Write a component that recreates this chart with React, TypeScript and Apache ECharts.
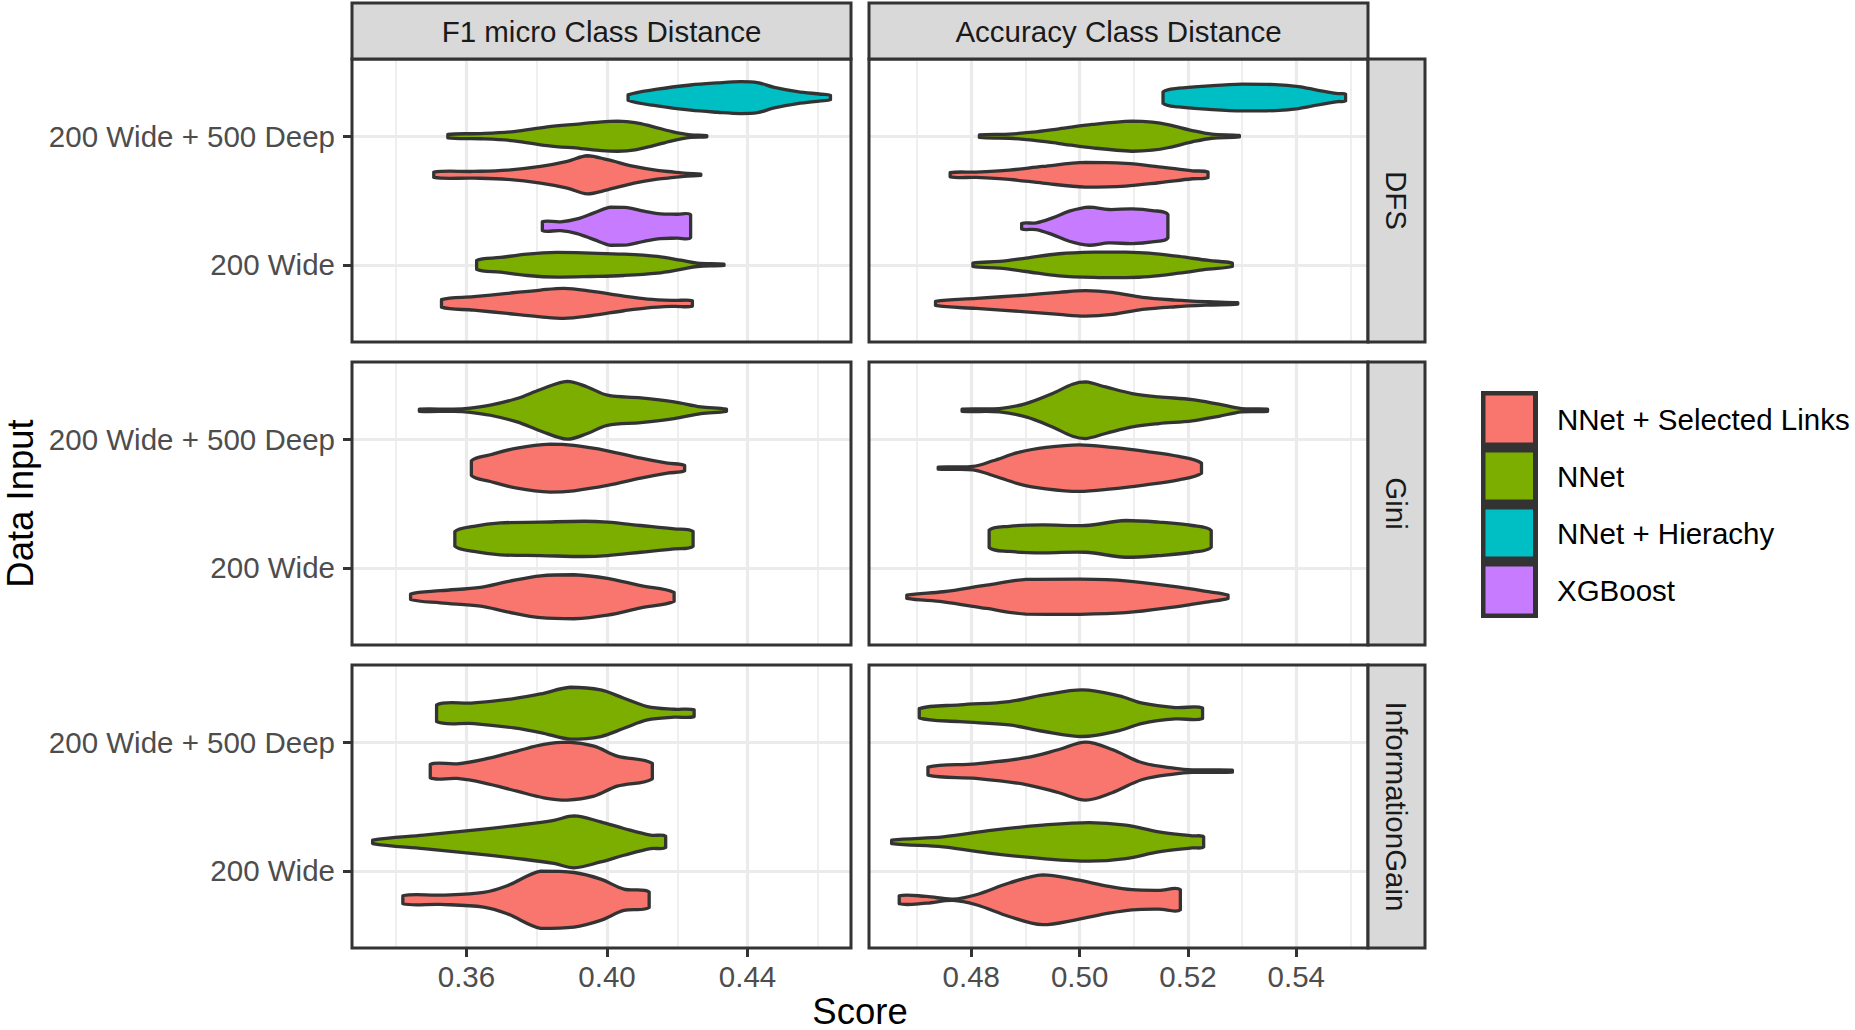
import React, { useEffect, useRef } from "react";
import * as echarts from "echarts";

// ---------- categories ----------
const metrics = ["F1 micro Class Distance", "Accuracy Class Distance"];
const selections = ["DFS", "Gini", "InformationGain"];
const inputs = ["200 Wide", "200 Wide + 500 Deep"];
const methods = ["NNet + Selected Links", "NNet", "NNet + Hierachy", "XGBoost"];
const methodColors = ["#F8766D", "#7CAE00", "#00BFC4", "#C77CFF"];

// ---------- axis ranges / ticks ----------
const f1Range = [0.32743, 0.46944];
const accRange = [0.46112, 0.55324];
const f1Ticks = [0.36, 0.4, 0.44];
const f1Minor = [0.34, 0.38, 0.42, 0.46];
const accTicks = [0.48, 0.5, 0.52, 0.54];
const accMinor = [0.47, 0.49, 0.51, 0.53, 0.55];
const inputRange = [0.4, 2.6];

// ---------- violin profiles: [score, half width in category units] ----------
// DFS - F1 micro
const dfsF1DeepHier = [[0.406, 0.021], [0.4143, 0.065], [0.4238, 0.098], [0.4314, 0.114], [0.4381, 0.124], [0.4428, 0.117], [0.4476, 0.08], [0.4542, 0.047], [0.4609, 0.026], [0.4636, 0.016]];
const dfsF1DeepNNet = [[0.3547, 0.013], [0.364, 0.02], [0.3735, 0.036], [0.383, 0.073], [0.3925, 0.096], [0.3985, 0.112], [0.403, 0.117], [0.408, 0.106], [0.413, 0.075], [0.4185, 0.036], [0.4238, 0.01], [0.4284, 0.005]];
const dfsF1DeepSL = [[0.3507, 0.021], [0.3621, 0.026], [0.3716, 0.036], [0.3811, 0.065], [0.3887, 0.104], [0.3944, 0.148], [0.4001, 0.117], [0.4077, 0.065], [0.4143, 0.034], [0.4191, 0.021], [0.4229, 0.01], [0.4267, 0.005]];
const dfsF1WideXGB = [[0.3816, 0.034], [0.3868, 0.034], [0.3915, 0.057], [0.3963, 0.104], [0.401, 0.148], [0.4058, 0.145], [0.4105, 0.117], [0.4153, 0.096], [0.42, 0.093], [0.4238, 0.088]];
const dfsF1WideNNet = [[0.3629, 0.034], [0.3697, 0.057], [0.3773, 0.083], [0.3858, 0.096], [0.3953, 0.091], [0.4048, 0.083], [0.4143, 0.065], [0.421, 0.036], [0.4257, 0.013], [0.4333, 0.005]];
const dfsF1WideSL = [[0.3529, 0.029], [0.3621, 0.052], [0.3716, 0.078], [0.3811, 0.104], [0.3877, 0.117], [0.3953, 0.096], [0.4048, 0.057], [0.4115, 0.034], [0.4191, 0.023], [0.4243, 0.021]];
// DFS - Accuracy
const dfsAccDeepHier = [[0.5154, 0.044], [0.5183, 0.073], [0.5238, 0.091], [0.53, 0.104], [0.5361, 0.101], [0.5404, 0.086], [0.544, 0.057], [0.5477, 0.031], [0.5491, 0.026]];
const dfsAccDeepNNet = [[0.4815, 0.01], [0.487, 0.016], [0.4913, 0.031], [0.4962, 0.057], [0.5024, 0.091], [0.5097, 0.117], [0.5134, 0.109], [0.5165, 0.088], [0.5208, 0.044], [0.5244, 0.016], [0.5295, 0.006]];
const dfsAccDeepSL = [[0.4761, 0.016], [0.4809, 0.021], [0.487, 0.036], [0.4932, 0.065], [0.5011, 0.096], [0.5085, 0.088], [0.5146, 0.062], [0.5208, 0.031], [0.5237, 0.021]];
const dfsAccWideXGB = [[0.4893, 0.021], [0.492, 0.026], [0.495, 0.065], [0.4981, 0.117], [0.5018, 0.148], [0.5054, 0.13], [0.5097, 0.135], [0.5134, 0.122], [0.5163, 0.091]];
const dfsAccWideNNet = [[0.4803, 0.013], [0.4852, 0.026], [0.4901, 0.052], [0.4962, 0.086], [0.5036, 0.099], [0.5085, 0.099], [0.5128, 0.091], [0.5183, 0.065], [0.5238, 0.034], [0.5282, 0.013]];
const dfsAccWideSL = [[0.4734, 0.016], [0.4809, 0.039], [0.4901, 0.065], [0.4962, 0.086], [0.5011, 0.099], [0.506, 0.086], [0.5116, 0.047], [0.5177, 0.026], [0.5238, 0.013], [0.5292, 0.005]];
// Gini - F1 micro
const giniF1DeepNNet = [[0.3466, 0.008], [0.3564, 0.008], [0.3611, 0.016], [0.3668, 0.039], [0.3744, 0.091], [0.3811, 0.161], [0.3887, 0.225], [0.3944, 0.181], [0.4001, 0.117], [0.4096, 0.096], [0.4191, 0.065], [0.4267, 0.026], [0.434, 0.008]];
const giniF1DeepSL = [[0.3614, 0.057], [0.3668, 0.104], [0.3744, 0.156], [0.3839, 0.187], [0.3906, 0.176], [0.4001, 0.135], [0.4096, 0.078], [0.4172, 0.039], [0.4221, 0.021]];
const giniF1WideNNet = [[0.3567, 0.057], [0.3621, 0.098], [0.3697, 0.124], [0.3811, 0.13], [0.3934, 0.137], [0.4001, 0.13], [0.4096, 0.104], [0.4191, 0.078], [0.4245, 0.057]];
const giniF1WideSL = [[0.3441, 0.021], [0.3526, 0.047], [0.364, 0.073], [0.3716, 0.117], [0.3811, 0.163], [0.3906, 0.171], [0.4001, 0.143], [0.4096, 0.086], [0.4191, 0.034]];
// Gini - Accuracy
const giniAccDeepNNet = [[0.4783, 0.008], [0.4852, 0.013], [0.4901, 0.052], [0.495, 0.13], [0.4987, 0.202], [0.5011, 0.22], [0.5048, 0.181], [0.5097, 0.13], [0.5146, 0.104], [0.5208, 0.083], [0.5257, 0.047], [0.5299, 0.013], [0.5347, 0.008]];
const giniAccDeepSL = [[0.4739, 0.008], [0.4803, 0.013], [0.484, 0.057], [0.4889, 0.124], [0.4938, 0.161], [0.4999, 0.181], [0.506, 0.161], [0.5122, 0.13], [0.5183, 0.091], [0.5225, 0.039]];
const giniAccWideNNet = [[0.4833, 0.067], [0.487, 0.098], [0.4932, 0.109], [0.5011, 0.104], [0.5085, 0.143], [0.5146, 0.13], [0.5208, 0.104], [0.5243, 0.065]];
const giniAccWideSL = [[0.4681, 0.013], [0.4748, 0.039], [0.4828, 0.091], [0.4901, 0.135], [0.4993, 0.137], [0.5085, 0.124], [0.5177, 0.078], [0.5238, 0.039], [0.5274, 0.013]];
// InformationGain - F1 micro
const igF1DeepNNet = [[0.3515, 0.065], [0.3621, 0.08], [0.3735, 0.114], [0.3811, 0.15], [0.3896, 0.202], [0.3982, 0.181], [0.4048, 0.117], [0.4115, 0.052], [0.4191, 0.031], [0.4248, 0.026]];
const igF1DeepSL = [[0.3497, 0.052], [0.3574, 0.057], [0.3649, 0.091], [0.3744, 0.156], [0.382, 0.207], [0.3887, 0.225], [0.3963, 0.194], [0.4029, 0.117], [0.4129, 0.06]];
const igF1WideNNet = [[0.3333, 0.013], [0.3478, 0.052], [0.3621, 0.091], [0.3763, 0.135], [0.3849, 0.168], [0.3906, 0.202], [0.3982, 0.156], [0.4048, 0.104], [0.4124, 0.052], [0.4167, 0.044]];
const igF1WideSL = [[0.3419, 0.031], [0.3526, 0.036], [0.3649, 0.057], [0.3716, 0.109], [0.3811, 0.222], [0.3906, 0.212], [0.3982, 0.16], [0.4048, 0.083], [0.412, 0.06]];
// InformationGain - Accuracy
const igAccDeepNNet = [[0.4704, 0.036], [0.4779, 0.065], [0.487, 0.091], [0.4932, 0.14], [0.5005, 0.181], [0.5073, 0.135], [0.5116, 0.078], [0.5177, 0.044], [0.5227, 0.041]];
const igAccDeepSL = [[0.472, 0.031], [0.4809, 0.057], [0.4901, 0.104], [0.4962, 0.168], [0.5011, 0.225], [0.506, 0.168], [0.5116, 0.065], [0.5177, 0.021], [0.5208, 0.01], [0.5282, 0.008]];
const igAccWideNNet = [[0.4653, 0.013], [0.4748, 0.039], [0.484, 0.091], [0.4932, 0.13], [0.5018, 0.15], [0.5085, 0.13], [0.5146, 0.078], [0.5208, 0.047], [0.5229, 0.039]];
const igAccWideSL = [[0.4667, 0.031], [0.4717, 0.026], [0.4766, 0.005], [0.4809, 0.039], [0.487, 0.13], [0.4932, 0.194], [0.4993, 0.156], [0.5054, 0.104], [0.5097, 0.078], [0.5146, 0.073], [0.5186, 0.078]];

type Violin = { sel: string; metric: string; input: string; method: string; profile: number[][] };

const violins: Violin[] = [
  { sel: "DFS", metric: metrics[0], input: inputs[1], method: methods[2], profile: dfsF1DeepHier },
  { sel: "DFS", metric: metrics[0], input: inputs[1], method: methods[1], profile: dfsF1DeepNNet },
  { sel: "DFS", metric: metrics[0], input: inputs[1], method: methods[0], profile: dfsF1DeepSL },
  { sel: "DFS", metric: metrics[0], input: inputs[0], method: methods[3], profile: dfsF1WideXGB },
  { sel: "DFS", metric: metrics[0], input: inputs[0], method: methods[1], profile: dfsF1WideNNet },
  { sel: "DFS", metric: metrics[0], input: inputs[0], method: methods[0], profile: dfsF1WideSL },
  { sel: "DFS", metric: metrics[1], input: inputs[1], method: methods[2], profile: dfsAccDeepHier },
  { sel: "DFS", metric: metrics[1], input: inputs[1], method: methods[1], profile: dfsAccDeepNNet },
  { sel: "DFS", metric: metrics[1], input: inputs[1], method: methods[0], profile: dfsAccDeepSL },
  { sel: "DFS", metric: metrics[1], input: inputs[0], method: methods[3], profile: dfsAccWideXGB },
  { sel: "DFS", metric: metrics[1], input: inputs[0], method: methods[1], profile: dfsAccWideNNet },
  { sel: "DFS", metric: metrics[1], input: inputs[0], method: methods[0], profile: dfsAccWideSL },
  { sel: "Gini", metric: metrics[0], input: inputs[1], method: methods[1], profile: giniF1DeepNNet },
  { sel: "Gini", metric: metrics[0], input: inputs[1], method: methods[0], profile: giniF1DeepSL },
  { sel: "Gini", metric: metrics[0], input: inputs[0], method: methods[1], profile: giniF1WideNNet },
  { sel: "Gini", metric: metrics[0], input: inputs[0], method: methods[0], profile: giniF1WideSL },
  { sel: "Gini", metric: metrics[1], input: inputs[1], method: methods[1], profile: giniAccDeepNNet },
  { sel: "Gini", metric: metrics[1], input: inputs[1], method: methods[0], profile: giniAccDeepSL },
  { sel: "Gini", metric: metrics[1], input: inputs[0], method: methods[1], profile: giniAccWideNNet },
  { sel: "Gini", metric: metrics[1], input: inputs[0], method: methods[0], profile: giniAccWideSL },
  { sel: "InformationGain", metric: metrics[0], input: inputs[1], method: methods[1], profile: igF1DeepNNet },
  { sel: "InformationGain", metric: metrics[0], input: inputs[1], method: methods[0], profile: igF1DeepSL },
  { sel: "InformationGain", metric: metrics[0], input: inputs[0], method: methods[1], profile: igF1WideNNet },
  { sel: "InformationGain", metric: metrics[0], input: inputs[0], method: methods[0], profile: igF1WideSL },
  { sel: "InformationGain", metric: metrics[1], input: inputs[1], method: methods[1], profile: igAccDeepNNet },
  { sel: "InformationGain", metric: metrics[1], input: inputs[1], method: methods[0], profile: igAccDeepSL },
  { sel: "InformationGain", metric: metrics[1], input: inputs[0], method: methods[1], profile: igAccWideNNet },
  { sel: "InformationGain", metric: metrics[1], input: inputs[0], method: methods[0], profile: igAccWideSL },
];

// position_dodge(width = 0.9) on the discrete input axis
function dodgeCenter(v: Violin): number {
  const present = violins
    .filter((w) => w.sel === v.sel && w.metric === v.metric && w.input === v.input)
    .map((w) => methods.indexOf(w.method))
    .sort((a, b) => a - b);
  const n = present.length;
  const i = present.indexOf(methods.indexOf(v.method));
  const w = 0.9 / n;
  return inputs.indexOf(v.input) + 1 + (i - (n - 1) / 2) * w;
}

const FONT = "'Liberation Sans', Arial, Helvetica, sans-serif";

export default function App() {
  const ref = useRef<HTMLDivElement>(null);

  useEffect(() => {
    if (!ref.current) return;
    const chart = echarts.init(ref.current, null, { renderer: "svg" });

    const colLeft = [352, 869];
    const panelW = 499;
    const rowTop = [59, 362, 665];
    const panelH = 283;
    const stripSize = 57;

    const grid: any[] = [];
    const xAxis: any[] = [];
    const yAxis: any[] = [];
    const minorX: any[] = [];
    const series: any[] = [];
    const tickStyle = { color: "#333333", width: 3 };

    for (let r = 0; r < selections.length; r++) {
      for (let c = 0; c < metrics.length; c++) {
        const g = r * metrics.length + c;
        grid.push({
          left: colLeft[c],
          top: rowTop[r],
          width: panelW,
          height: panelH,
          containLabel: false,
          outerBoundsMode: "none",
          show: true,
          backgroundColor: "#FFFFFF",
          borderWidth: 0,
        });
        const range = c === 0 ? f1Range : accRange;
        const major = c === 0 ? f1Ticks : accTicks;
        const minor = c === 0 ? f1Minor : accMinor;
        xAxis.push({
          type: "value",
          gridIndex: g,
          position: "bottom",
          min: range[0],
          max: range[1],
          axisLine: { show: false },
          axisTick: { show: r === selections.length - 1, customValues: major, length: 9, lineStyle: tickStyle },
          axisLabel: {
            show: r === selections.length - 1,
            customValues: major,
            formatter: (v: number) => v.toFixed(2),
            color: "#4D4D4D",
            fontSize: 29.5,
            fontFamily: FONT,
            margin: 13,
          },
          splitLine: { show: true, lineStyle: { color: "#EBEBEB", width: 3.2 } },
        });
        minorX.push({
          type: "value",
          gridIndex: g,
          position: "top",
          min: range[0],
          max: range[1],
          axisLine: { show: false },
          axisTick: { show: false, customValues: minor },
          axisLabel: { show: false, customValues: minor },
          splitLine: { show: true, lineStyle: { color: "#EBEBEB", width: 1.6 } },
        });
        yAxis.push({
          type: "value",
          gridIndex: g,
          min: inputRange[0],
          max: inputRange[1],
          axisLine: { show: false },
          axisTick: { show: c === 0, customValues: [1, 2], length: 9, lineStyle: tickStyle },
          axisLabel: {
            show: c === 0,
            customValues: [1, 2],
            formatter: (v: number) => inputs[Math.round(v) - 1],
            color: "#4D4D4D",
            fontSize: 29.5,
            fontFamily: FONT,
            margin: 17,
          },
          splitLine: { show: true, lineStyle: { color: "#EBEBEB", width: 3.2 } },
        });

        methods.forEach((m, mi) => {
          const data = violins
            .map((v, idx) => ({ v, idx }))
            .filter(({ v }) => v.sel === selections[r] && v.metric === metrics[c] && v.method === m)
            .map(({ v, idx }) => ({
              value: [v.profile[Math.floor(v.profile.length / 2)][0], dodgeCenter(v), idx],
            }));
          if (!data.length) return;
          series.push({
            type: "custom",
            name: m,
            xAxisIndex: g,
            yAxisIndex: g,
            z: 5,
            encode: { x: 0, y: 1 },
            data,
            renderItem: (params: any, api: any) => {
              const v = violins[api.value(2)];
              const yc = api.value(1);
              const top = v.profile.map(([x, h]) => api.coord([x, yc + h]));
              const bot = v.profile
                .slice()
                .reverse()
                .map(([x, h]) => api.coord([x, yc - h]));
              const pts = top.concat(bot);
              let minX = Infinity, minY = Infinity, maxX = -Infinity, maxY = -Infinity;
              pts.forEach((p: number[]) => {
                minX = Math.min(minX, p[0]);
                maxX = Math.max(maxX, p[0]);
                minY = Math.min(minY, p[1]);
                maxY = Math.max(maxY, p[1]);
              });
              return {
                type: "polygon",
                shape: { points: pts, smooth: 0.35, smoothConstraint: [[minX, minY], [maxX, maxY]] },
                style: { fill: methodColors[mi], stroke: "#333333", lineWidth: 3.3, lineJoin: "round" },
              };
            },
          });
        });
      }
    }

    const graphic: any[] = [];
    const txt = (text: string, x: number, y: number, size: number, color: string, rotation = 0, align = "center") => ({
      type: "text",
      x,
      y,
      rotation,
      z: 120,
      style: {
        text,
        x: 0,
        y: 0,
        fill: color,
        fontSize: size,
        fontFamily: FONT,
        lineHeight: Math.round(size),
        align,
        verticalAlign: "middle",
        textAlign: align,
        textVerticalAlign: "middle",
      },
    });
    // panel borders
    for (let r = 0; r < selections.length; r++) {
      for (let c = 0; c < metrics.length; c++) {
        graphic.push({
          type: "rect",
          z: 110,
          shape: { x: colLeft[c], y: rowTop[r], width: panelW, height: panelH },
          style: { fill: "none", stroke: "#333333", lineWidth: 3 },
        });
      }
    }
    // column strips
    metrics.forEach((m, c) => {
      graphic.push({
        type: "rect",
        z: 110,
        shape: { x: colLeft[c], y: rowTop[0] - 56, width: panelW, height: 56 },
        style: { fill: "#D9D9D9", stroke: "#333333", lineWidth: 3 },
      });
      graphic.push(txt(m, colLeft[c] + panelW / 2, rowTop[0] - 28, 29.5, "#1A1A1A"));
    });
    // row strips
    const stripX = colLeft[1] + panelW;
    selections.forEach((s, r) => {
      graphic.push({
        type: "rect",
        z: 110,
        shape: { x: stripX, y: rowTop[r], width: stripSize, height: panelH },
        style: { fill: "#D9D9D9", stroke: "#333333", lineWidth: 3 },
      });
      graphic.push(txt(s, stripX + stripSize / 2, rowTop[r] + panelH / 2, 29.5, "#1A1A1A", -Math.PI / 2));
    });
    // axis titles
    graphic.push(txt("Score", (colLeft[0] + stripX) / 2, 1011, 36.5, "#000000"));
    graphic.push(txt("Data Input", 20, (rowTop[0] + rowTop[2] + panelH) / 2, 36.5, "#000000", Math.PI / 2));
    // legend
    const legX = 1481;
    const legY = 391;
    const keyH = 57;
    graphic.push({
      type: "rect",
      z: 110,
      shape: { x: legX, y: legY, width: 57, height: keyH * methods.length - 1 },
      style: { fill: "#333333" },
    });
    methods.forEach((m, i) => {
      graphic.push({
        type: "rect",
        z: 111,
        shape: { x: legX + 4.5, y: legY + 4.5 + i * keyH, width: 47.5, height: 47 },
        style: { fill: methodColors[i] },
      });
      graphic.push(txt(m, 1557, legY + 28 + i * keyH, 29.5, "#000000", 0, "left"));
    });

    chart.setOption({
      animation: false,
      backgroundColor: "#FFFFFF",
      textStyle: { fontFamily: FONT },
      grid,
      xAxis: xAxis.concat(minorX),
      yAxis,
      series,
      graphic: { elements: graphic },
    });

    return () => chart.dispose();
  }, []);

  return <div ref={ref} style={{ width: 1855, height: 1030, position: "absolute", left: 0, top: 0 }} />;
}
